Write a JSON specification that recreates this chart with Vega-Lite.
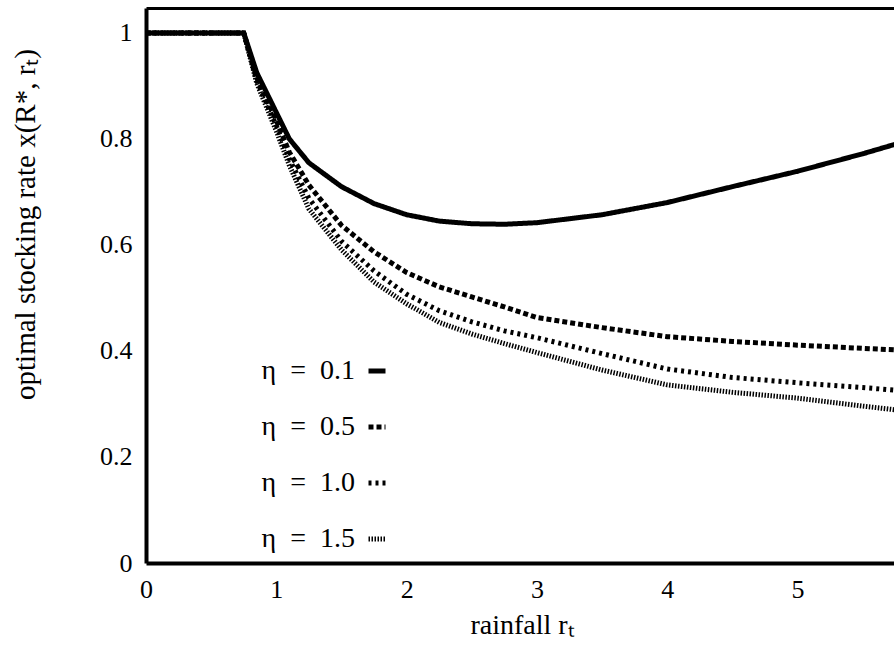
{
  "$schema": "https://vega.github.io/schema/vega-lite/v6.json",
  "autosize": {"type": "none"},
  "padding": {"left": 146, "top": 8, "right": 0, "bottom": 88},
  "width": 748,
  "height": 555,
  "background": "white",
  "config": {
    "view": {"stroke": null},
    "font": "Liberation Serif",
    "axis": {"grid": false, "domain": true, "domainColor": "black", "domainWidth": 4, "ticks": false, "labelFlush": false, "labelFont": "Liberation Serif", "titleFont": "Liberation Serif", "labelColor": "black", "titleColor": "black", "titleFontWeight": "normal"}
  },
  "data": {
    "values": [
      {"r": 0, "x": 1, "eta": "0.1"}, {"r": 0.75, "x": 1, "eta": "0.1"}, {"r": 0.85, "x": 0.925, "eta": "0.1"}, {"r": 1.0, "x": 0.85, "eta": "0.1"}, {"r": 1.1, "x": 0.8, "eta": "0.1"}, {"r": 1.25, "x": 0.755, "eta": "0.1"}, {"r": 1.5, "x": 0.71, "eta": "0.1"}, {"r": 1.75, "x": 0.678, "eta": "0.1"}, {"r": 2.0, "x": 0.657, "eta": "0.1"}, {"r": 2.25, "x": 0.645, "eta": "0.1"}, {"r": 2.5, "x": 0.64, "eta": "0.1"}, {"r": 2.75, "x": 0.639, "eta": "0.1"}, {"r": 3.0, "x": 0.642, "eta": "0.1"}, {"r": 3.5, "x": 0.657, "eta": "0.1"}, {"r": 4.0, "x": 0.68, "eta": "0.1"}, {"r": 4.5, "x": 0.71, "eta": "0.1"}, {"r": 5.0, "x": 0.739, "eta": "0.1"}, {"r": 5.5, "x": 0.772, "eta": "0.1"}, {"r": 6.0, "x": 0.808, "eta": "0.1"},
      {"r": 0, "x": 1, "eta": "0.5"}, {"r": 0.75, "x": 1, "eta": "0.5"}, {"r": 0.85, "x": 0.915, "eta": "0.5"}, {"r": 1.0, "x": 0.835, "eta": "0.5"}, {"r": 1.1, "x": 0.775, "eta": "0.5"}, {"r": 1.25, "x": 0.713, "eta": "0.5"}, {"r": 1.5, "x": 0.637, "eta": "0.5"}, {"r": 1.75, "x": 0.587, "eta": "0.5"}, {"r": 2.0, "x": 0.548, "eta": "0.5"}, {"r": 2.25, "x": 0.521, "eta": "0.5"}, {"r": 2.5, "x": 0.502, "eta": "0.5"}, {"r": 2.75, "x": 0.483, "eta": "0.5"}, {"r": 3.0, "x": 0.463, "eta": "0.5"}, {"r": 3.5, "x": 0.444, "eta": "0.5"}, {"r": 4.0, "x": 0.427, "eta": "0.5"}, {"r": 4.5, "x": 0.418, "eta": "0.5"}, {"r": 5.0, "x": 0.411, "eta": "0.5"}, {"r": 5.5, "x": 0.405, "eta": "0.5"}, {"r": 6.0, "x": 0.399, "eta": "0.5"},
      {"r": 0, "x": 1, "eta": "1.0"}, {"r": 0.75, "x": 1, "eta": "1.0"}, {"r": 0.85, "x": 0.91, "eta": "1.0"}, {"r": 1.0, "x": 0.825, "eta": "1.0"}, {"r": 1.1, "x": 0.762, "eta": "1.0"}, {"r": 1.25, "x": 0.688, "eta": "1.0"}, {"r": 1.5, "x": 0.607, "eta": "1.0"}, {"r": 1.75, "x": 0.551, "eta": "1.0"}, {"r": 2.0, "x": 0.507, "eta": "1.0"}, {"r": 2.25, "x": 0.476, "eta": "1.0"}, {"r": 2.5, "x": 0.455, "eta": "1.0"}, {"r": 2.75, "x": 0.438, "eta": "1.0"}, {"r": 3.0, "x": 0.425, "eta": "1.0"}, {"r": 3.5, "x": 0.395, "eta": "1.0"}, {"r": 4.0, "x": 0.366, "eta": "1.0"}, {"r": 4.5, "x": 0.35, "eta": "1.0"}, {"r": 5.0, "x": 0.34, "eta": "1.0"}, {"r": 5.5, "x": 0.331, "eta": "1.0"}, {"r": 6.0, "x": 0.321, "eta": "1.0"},
      {"r": 0, "x": 1, "eta": "1.5"}, {"r": 0.75, "x": 1, "eta": "1.5"}, {"r": 0.85, "x": 0.905, "eta": "1.5"}, {"r": 1.0, "x": 0.815, "eta": "1.5"}, {"r": 1.1, "x": 0.75, "eta": "1.5"}, {"r": 1.25, "x": 0.668, "eta": "1.5"}, {"r": 1.5, "x": 0.591, "eta": "1.5"}, {"r": 1.75, "x": 0.53, "eta": "1.5"}, {"r": 2.0, "x": 0.489, "eta": "1.5"}, {"r": 2.25, "x": 0.454, "eta": "1.5"}, {"r": 2.5, "x": 0.432, "eta": "1.5"}, {"r": 2.75, "x": 0.414, "eta": "1.5"}, {"r": 3.0, "x": 0.397, "eta": "1.5"}, {"r": 3.5, "x": 0.364, "eta": "1.5"}, {"r": 4.0, "x": 0.336, "eta": "1.5"}, {"r": 4.5, "x": 0.322, "eta": "1.5"}, {"r": 5.0, "x": 0.311, "eta": "1.5"}, {"r": 5.5, "x": 0.296, "eta": "1.5"}, {"r": 6.0, "x": 0.282, "eta": "1.5"}
    ]
  },
  "layer": [
    {
      "mark": {"type": "line", "color": "black", "strokeWidth": 5, "strokeCap": "butt", "strokeJoin": "miter", "clip": true},
      "encoding": {
        "x": {
          "field": "r", "type": "quantitative",
          "scale": {"domain": [0, 5.74], "nice": false, "zero": false},
          "axis": {"orient": "bottom", "values": [0, 1, 2, 3, 4, 5], "labelFontSize": 26, "labelPadding": 13, "title": "rainfall rₜ", "titleFontSize": 28, "titleX": 376, "titleY": 62, "titleBaseline": "middle", "titleAnchor": "start", "titleAlign": "center"}
        },
        "y": {
          "field": "x", "type": "quantitative",
          "scale": {"domain": [0, 1.047], "nice": false, "zero": false},
          "axis": {"values": [0, 0.2, 0.4, 0.6, 0.8, 1], "format": ".1~f", "labelFontSize": 26, "labelPadding": 14, "title": "optimal stocking rate x(R*, rₜ)", "titleFontSize": 29, "titleAngle": 270, "titleX": -121, "titleY": 216, "titleAlign": "center", "titleBaseline": "middle", "titleAnchor": "start"}
        },
        "strokeDash": {
          "field": "eta", "type": "nominal",
          "scale": {"domain": ["0.1", "0.5", "1.0", "1.5"], "range": [[1, 0], [5, 3], [3, 4], [1.5, 1.5]]},
          "legend": {
            "title": null, "orient": "none", "legendX": 217, "legendY": 349,
            "labelExpr": "'η\u2002=\u2002' + datum.label",
            "labelFont": "Liberation Serif", "labelFontSize": 28, "labelColor": "black",
            "labelAlign": "right", "labelOffset": -36,
            "symbolType": "stroke", "symbolSize": 289, "symbolStrokeWidth": 5, "symbolStrokeColor": "black",
            "rowPadding": 28
          }
        }
      }
    },
    {
      "mark": {"type": "line", "opacity": 0, "clip": true},
      "encoding": {
        "x": {"field": "r", "type": "quantitative", "axis": {"orient": "top", "labels": false, "ticks": false, "title": null, "domainWidth": 3}},
        "y": {"field": "x", "type": "quantitative"},
        "detail": {"field": "eta"}
      }
    }
  ],
  "resolve": {"axis": {"x": "independent"}}
}
